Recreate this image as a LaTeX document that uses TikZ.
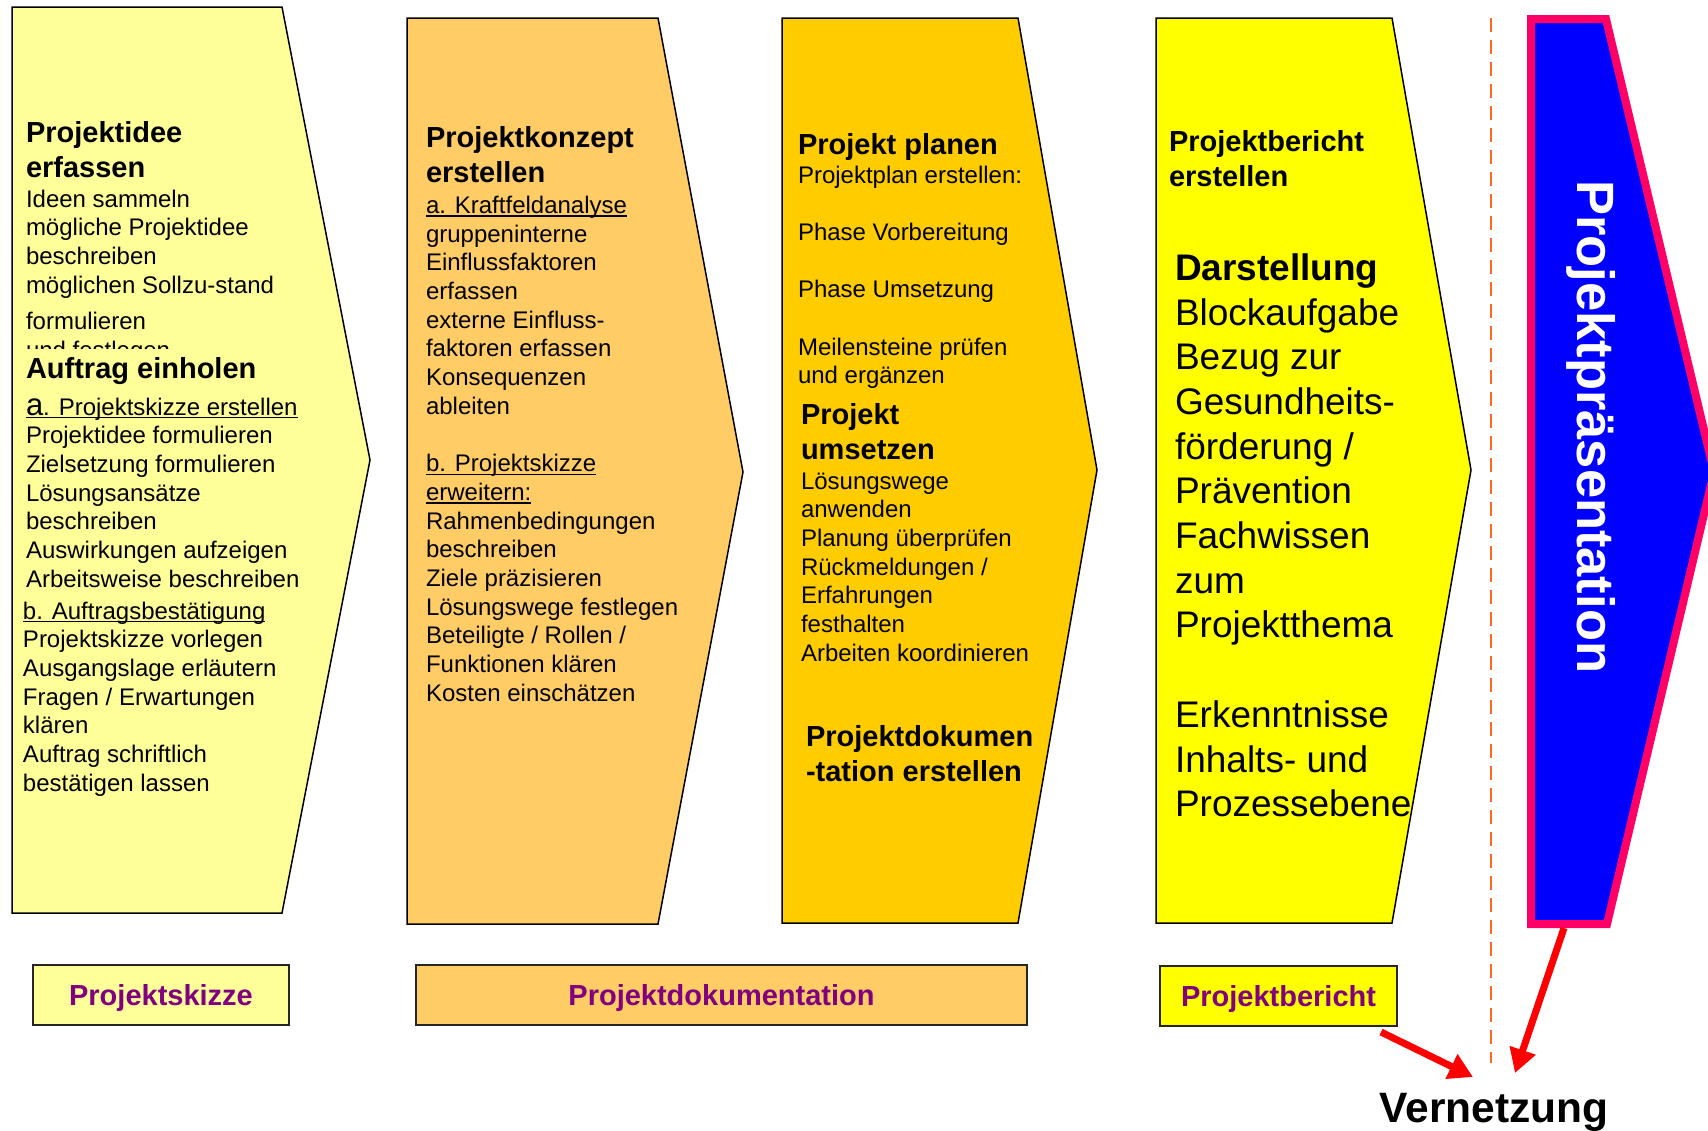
\documentclass[tikz,border=0pt]{standalone}
\usepackage{fontspec}
\setmainfont{Liberation Sans}
\usetikzlibrary{arrows.meta}
\definecolor{cA}{HTML}{FFFF99}
\definecolor{cB}{HTML}{FFCC66}
\definecolor{cC}{HTML}{FFCC00}
\definecolor{cD}{HTML}{FFFF00}
\definecolor{pinkb}{HTML}{FF0066}
\definecolor{blueb}{HTML}{0000FF}
\definecolor{purp}{HTML}{800080}
\definecolor{dashor}{HTML}{FF6A1E}
\newcommand\myul[1]{\setbox0\hbox{#1}\rlap{\rule[-3.2pt]{\wd0}{1.4pt}}\box0}
\newcommand\txbody{\fontsize{24}{28.7}\selectfont}
\newcommand\txhead{\fontsize{29}{35}\selectfont\bfseries}
\newcommand\txbig{\fontsize{37}{44.7}\selectfont}
\newcommand\tb[1]{\rule{0pt}{#1}}
\tikzset{
  shp/.style={draw=black, line width=1.5pt, line join=miter},
  txt/.style={anchor=base west, inner sep=0pt, outer sep=0pt, align=left},
  blk/.style={anchor=north west, inner sep=0pt, outer sep=0pt, align=left},
  labbox/.style={draw=black!85, line width=1.8pt, inner sep=0pt, text height=21pt, text depth=0pt,
    minimum height=60pt, font=\fontsize{29}{35}\selectfont\bfseries, text=purp},
  redarr/.style={draw=red, line width=7pt, -{Triangle[length=24pt,width=26pt]}}
}
\begin{document}
\begin{tikzpicture}[x=1pt,y=-1pt]
\useasboundingbox (0,0) rectangle (1708,1130);
\fill[white] (0,0) rectangle (1708,1130);
% chevrons
\draw[shp, fill=cA] (12,7) -- (282,7) -- (370,460) -- (282,913) -- (12,913) -- cycle;
\draw[shp, fill=cB] (407,18) -- (658,18) -- (743,472) -- (658,924) -- (407,924) -- cycle;
\draw[shp, fill=cC] (782,18) -- (1018,18) -- (1097,470) -- (1018,923) -- (782,923) -- cycle;
\draw[shp, fill=cD] (1156,18) -- (1392,18) -- (1471,470) -- (1392,923) -- (1156,923) -- cycle;
\draw[pinkb, line width=8pt, line join=miter, fill=blueb] (1531,19) -- (1606,19) -- (1714,472) -- (1607,924) -- (1531,924) -- cycle;
% dashed separator
\draw[dashor, line width=2pt, dash pattern=on 14pt off 8pt] (1491,18) -- (1491,1063);

% shape 1 texts
\node[blk, font=\txhead] (t1a) at (26,117.35) {\tb{24.65pt}Projektidee\\erfassen};
\node[blk, font=\txbody] (t1b) at (26,186.6) {\tb{20.4pt}Ideen sammeln\\mögliche Projektidee\\beschreiben\\möglichen Sollzu-stand};
\node[txt, font=\txbody] (t1c) at (26,329) {formulieren};
\begin{scope}
\clip (0,0) rectangle (400,348);
\node[txt, font=\txbody] (t1d) at (26,358) {und festlegen};
\end{scope}
\node[txt, font=\txhead] (t1e) at (26,378) {Auftrag einholen};
\node[blk, font=\txbody] (t1f) at (26,394.6) {\tb{20.4pt}\myul{{\fontsize{31}{28.7}\selectfont a}. Projektskizze erstellen}\\Projektidee formulieren\\Zielsetzung formulieren\\Lösungsansätze\\beschreiben\\Auswirkungen aufzeigen\\Arbeitsweise beschreiben};
\node[blk, font=\txbody] (t1g) at (23,598.6) {\tb{20.4pt}\myul{b. Auftragsbestätigung}\\Projektskizze vorlegen\\Ausgangslage erläutern\\Fragen / Erwartungen\\klären\\Auftrag schriftlich\\bestätigen lassen};

% shape 2 texts
\node[blk, font=\txhead] (t2a) at (426,122.35) {\tb{24.65pt}Projektkonzept\\erstellen};
\node[blk, font=\txbody] (t2b) at (426,193) {\tb{20.4pt}\myul{a. Kraftfeldanalyse}\\gruppeninterne\\Einflussfaktoren\\erfassen\\externe Einfluss-\\faktoren erfassen\\Konsequenzen\\ableiten\\[28.7pt]\myul{b. Projektskizze}\\\myul{erweitern:}\\Rahmenbedingungen\\beschreiben\\Ziele präzisieren\\Lösungswege festlegen\\Beteiligte / Rollen /\\Funktionen klären\\Kosten einschätzen};

% shape 3 texts
\node[txt, font=\txhead] (t3a) at (798,154) {Projekt planen};
\node[blk, font=\txbody] (t3b) at (798,162.6) {\tb{20.4pt}Projektplan erstellen:\\[28.7pt]Phase Vorbereitung\\[28.7pt]Phase Umsetzung\\[28.7pt]Meilensteine prüfen\\und ergänzen};
\node[blk, font=\txhead] (t3c) at (801,399.35) {\tb{24.65pt}Projekt\\umsetzen};
\node[blk, font=\txbody] (t3d) at (801,468.6) {\tb{20.4pt}Lösungswege\\anwenden\\Planung überprüfen\\Rückmeldungen /\\Erfahrungen\\festhalten\\Arbeiten koordinieren};
\node[blk, font=\txhead] (t3e) at (806,721.35) {\tb{24.65pt}Projektdokumen\\-tation erstellen};

% shape 4 texts
\node[blk, font=\txhead] (t4a) at (1169,126.35) {\tb{24.65pt}Projektbericht\\erstellen};
\node[txt, font=\txbig\bfseries] (t4b) at (1175,280) {Darstellung};
\node[blk, font=\txbig] (t4c) at (1175,293.55) {\tb{31.45pt}Blockaufgabe\\Bezug zur\\Gesundheits-\\förderung /\\Prävention\\Fachwissen\\zum\\Projektthema\\[44.7pt]Erkenntnisse\\Inhalts- und\\Prozessebene};

% shape 5 text
\node[anchor=base west, inner sep=0pt, rotate=-90, text=white, font=\fontsize{52.5}{60}\selectfont\bfseries] (t5) at (1577,180) {Projektpräsentation};

% bottom labels
\node[labbox, fill=cA, minimum width=256pt] (lb1) at (161,995) {Projektskizze};
\node[labbox, fill=cB, minimum width=611pt] (lb2) at (721.5,995) {Projektdokumentation};
\node[labbox, fill=cD, minimum width=237pt] (lb3) at (1278.5,996) {Projektbericht};

% Vernetzung
\node[anchor=base, inner sep=0pt, font=\fontsize{42.5}{48}\selectfont\bfseries] (vn) at (1494,1122) {Vernetzung};

% arrows
\coordinate (a1s) at (1381,1032);
\coordinate (a1e) at (1473,1077);
\coordinate (a2s) at (1564,928);
\coordinate (a2e) at (1515,1073);
\draw[redarr] (a1s) -- (a1e);
\draw[redarr] (a2s) -- (a2e);
\end{tikzpicture}
\end{document}
